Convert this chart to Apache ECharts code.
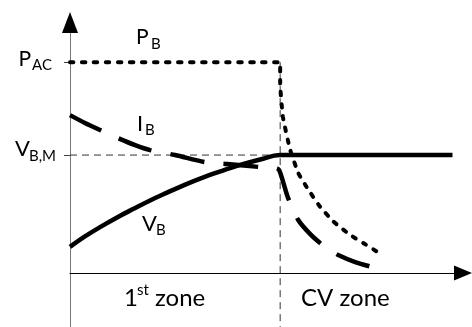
<!DOCTYPE html>
<html><head><meta charset="utf-8">
<script src="https://cdn.jsdelivr.net/npm/echarts@6/dist/echarts.min.js"></script>
<style>html,body{margin:0;padding:0;background:#fff}#c{width:472px;height:327px}</style>
</head><body><div id="c"></div>
<script>
// ---- data (x: time units, y: normalized level units) ----
const zoneBoundary = 10;
const levelPAC = 80.8;
const levelVBM = 45.2;
const yBottom = -20.7;
const xMax = 18.7;
const yMax = 96;

const pbX = [0, 10, 10, 10.13, 10.48, 10.87, 11.35, 11.9, 12.54, 13.33, 13.97, 14.6];
const pbY = [80.8, 80.8, 72.8, 59.9, 47.1, 38.2, 31.8, 25.4, 19.7, 14.6, 11.4, 8.2];

const ibX = [0, 0.71, 1.43, 2.29, 3.1, 3.81, 5.0, 6.43, 7.48, 9.05, 9.81, 9.95, 10.14, 10.38, 10.86, 11.43, 11.9, 12.33, 12.76, 13.57, 14.38];
const ibY = [60.5, 57.5, 54.8, 51.7, 49.0, 47.1, 45.2, 42.5, 41.8, 40.6, 40.2, 39.5, 34.9, 28.7, 20.3, 14.9, 11.5, 9.0, 6.9, 4.2, 2.3];

const vbX = [0, 0.71, 1.43, 2.24, 3.0, 3.81, 4.62, 5.43, 6.19, 7.14, 8.1, 9.05, 10, 18.2];
const vbY = [10.0, 14.0, 17.6, 21.3, 24.5, 27.8, 30.8, 33.7, 36.2, 38.9, 41.4, 43.5, 45.2, 45.2];

const divX = [zoneBoundary, zoneBoundary];
const divY = [levelPAC, yBottom];
const guideX = [0, zoneBoundary];
const guideY = [levelVBM, levelVBM];

const pair = (xs, ys) => xs.map((x, i) => [x, ys[i]]);

const FONT = 'Lato, "Open Sans", sans-serif';
function t(x, y, s, size) {
  return { type: 'text', x: x, y: y, silent: true,
    style: { text: s, fill: '#000', font: size + 'px ' + FONT, align: 'left', verticalAlign: 'middle' } };
}

const chart = echarts.init(document.getElementById('c'), null, { renderer: 'canvas' });
chart.setOption({
  animation: false,
  backgroundColor: '#fff',
  grid: { left: 70, right: 9, top: 22.5, bottom: 0, containLabel: false, outerBoundsMode: 'none' },
  xAxis: {
    type: 'value', min: 0, max: xMax,
    axisLine: { onZero: true, lineStyle: { color: '#000', width: 1 }, symbol: ['none', 'triangle'], symbolSize: [15, 18] },
    axisTick: { show: false }, axisLabel: { show: false }, splitLine: { show: false }
  },
  yAxis: [
    {
      type: 'value', min: yBottom, max: yMax, position: 'left',
      axisLine: { show: true, onZero: false, lineStyle: { color: '#777', width: 1 } },
      axisTick: { show: true, customValues: [levelPAC, levelVBM], length: 6, lineStyle: { color: '#444', width: 1 } },
      axisLabel: { show: false }, splitLine: { show: false }
    },
    {
      type: 'value', min: yBottom, max: yMax, position: 'left', offset: 0,
      axisLine: { show: true, onZero: false, lineStyle: { color: '#000', width: 0.01 }, symbol: ['none', 'triangle'], symbolSize: [16, 21] },
      axisTick: { show: false }, axisLabel: { show: false }, splitLine: { show: false }
    }
  ],
  series: [
    { type: 'line', name: 'guide', data: pair(guideX, guideY), showSymbol: false, silent: true,
      lineStyle: { color: '#333', width: 1, type: [7, 5] } },
    { type: 'line', name: 'divider', data: pair(divX, divY), showSymbol: false, silent: true,
      lineStyle: { color: '#333', width: 1, type: [7, 5] } },
    { type: 'line', name: 'V_B', data: pair(vbX, vbY), showSymbol: false, smooth: 0.4,
      lineStyle: { color: '#000', width: 4.5 } },
    { type: 'line', name: 'I_B', data: pair(ibX, ibY), showSymbol: false, smooth: 0.3,
      lineStyle: { color: '#000', width: 4.5, type: [35, 19], cap: 'butt' } },
    { type: 'line', name: 'P_B', data: pair(pbX, pbY), showSymbol: false, smooth: 0.15,
      lineStyle: { color: '#000', width: 4, type: [3.5, 8.5], cap: 'round' } }
  ],
  graphic: [
    t(18.5, 59, 'P', 21), t(32, 65, 'AC', 15),
    t(15, 149, 'V', 22), t(29, 156.5, 'B,M', 15),
    t(136, 37.5, 'P', 21), t(151, 44, 'B', 15),
    t(137, 123.5, 'I', 22), t(145, 130, 'B', 15),
    t(142, 224, 'V', 22), t(156, 230, 'B', 15),
    t(124, 298.5, '1', 24), t(137, 290.5, 'st', 15), t(155, 298.5, 'zone', 24),
    t(301, 298.5, 'CV zone', 24)
  ]
});
</script></body></html>
